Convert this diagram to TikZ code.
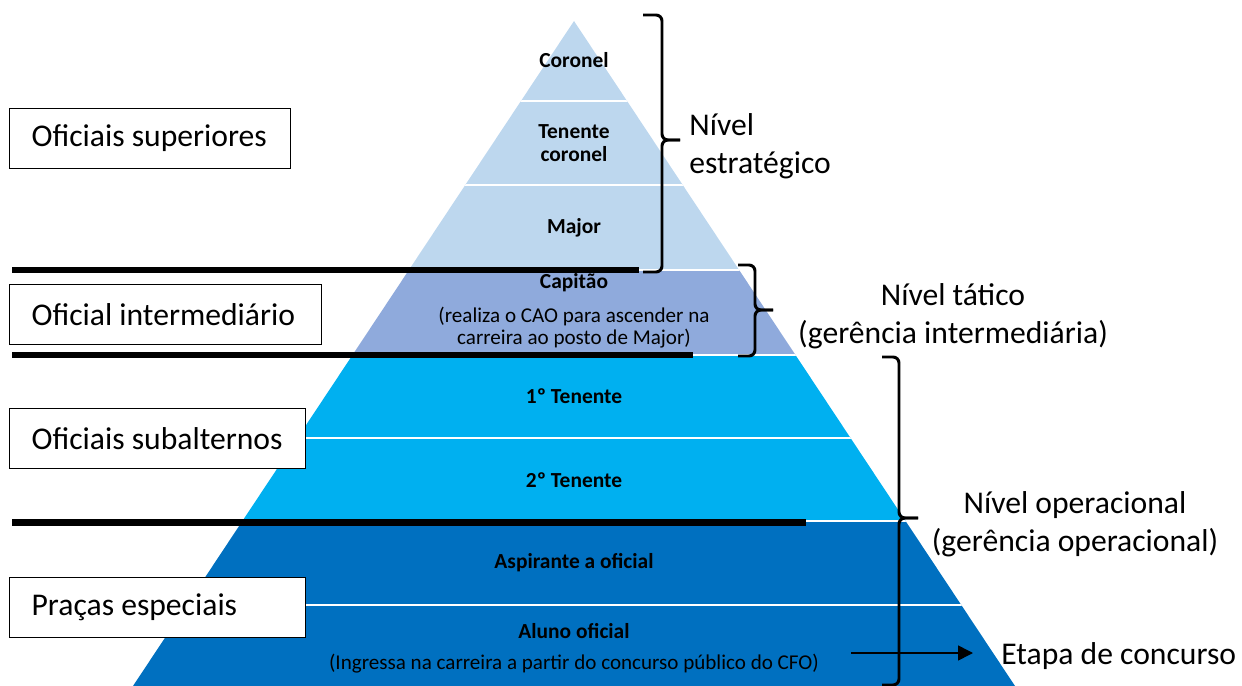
\documentclass[tikz,border=0pt]{standalone}
\usepackage{fontspec}
\setmainfont{Carlito}
\usetikzlibrary{arrows.meta}

\definecolor{lightband}{HTML}{BDD7EE}
\definecolor{midband}{HTML}{8FAADC}
\definecolor{cyanband}{HTML}{00B0F0}
\definecolor{darkband}{HTML}{0070C0}

\tikzset{
  rank/.style={font=\bfseries\fontsize{12.2}{13.1}\selectfont, align=center, inner sep=0pt},
  note/.style={font=\fontsize{12}{12.5}\selectfont, align=center, inner sep=0pt},
  level/.style={font=\fontsize{18}{21.6}\selectfont, inner sep=0pt},
  group/.style={draw, line width=0.7pt, fill=white, anchor=north west,
    minimum height=1.2cm, inner xsep=0.44cm, align=flush left,
    font=\fontsize{18}{21.6}\selectfont},
  cut/.style={line width=0.14cm},
  curly/.style={line width=1.7pt, rounded corners=0.12cm},
}

\begin{document}
\begin{tikzpicture}[x=0.02cm, y=-0.02cm]
\useasboundingbox (0,0) rectangle (1242,686);

\begin{scope}
\clip (574,21) -- (133,686) -- (1015,686) -- cycle;
\fill[lightband] (0,0)   rectangle (1242,270);
\fill[midband]   (0,270) rectangle (1242,355);
\fill[cyanband]  (0,355) rectangle (1242,521);
\fill[darkband]  (0,521) rectangle (1242,700);
\foreach \y in {101,185,270,355,438,521,605}
  \draw[white, line width=1.5pt] (0,\y) -- (1242,\y);
\end{scope}

\draw[cut] (12,270) -- (639,270);
\draw[cut] (12,355) -- (693,355);
\draw[cut] (12,522) -- (806,522);

\node[group, text width=4.74cm] at (9,108) (sup)   {Oficiais superiores};
\node[group, text width=5.36cm] at (9,284) (inter) {Oficial intermediário};
\node[group, text width=5.04cm] at (9,408) (subal) {Oficiais subalternos};
\node[group, text width=5.04cm] at (9,577) (pracas) {Praças especiais};

\node[rank] at (574,60)  (coronel)   {Coronel};
\node[rank] at (574,143) (tencor)    {Tenente\\coronel};
\node[rank] at (574,228) (major)     {Major};
\node[rank] at (574,283) (capitao)   {Capitão};
\node[note] at (574,328) (cao)       {(realiza o CAO para ascender na\\carreira ao posto de Major)};
\node[rank] at (574,396) (primten)   {1º Tenente};
\node[rank] at (574,480) (segten)    {2º Tenente};
\node[rank] at (574,563) (aspirante) {Aspirante a oficial};
\node[rank] at (574,631) (aluno)     {Aluno oficial};
\node[note] at (574,664) (cfo)       {(Ingressa na carreira a partir do concurso público do CFO)};

\draw[curly] (643,15)  -- (662,15)  -- (662,140) -- (680,140);
\draw[curly] (643,272) -- (662,272) -- (662,140) -- (680,140);

\draw[curly] (738,265) -- (755,265) -- (755,310) -- (773,310);
\draw[curly] (738,356) -- (755,356) -- (755,310) -- (773,310);

\draw[curly] (882,357) -- (899,357) -- (899,518) -- (918,518);
\draw[curly] (882,685) -- (899,685) -- (899,518) -- (918,518);

\node[level, anchor=west, align=left] at (689,146) (estrat) {Nível\\estratégico};
\node[level, align=center] at (953,316)  (tatico) {Nível tático\\(gerência intermediária)};
\node[level, align=center] at (1075,524) (operac) {Nível operacional\\(gerência operacional)};
\node[level, anchor=west]  at (1001,656) (etapa)  {Etapa de concurso};

\coordinate (arrtail) at (851,653);
\draw[-{Triangle[length=0.3cm,width=0.3cm]}, line width=0.9pt, shorten >=0.56cm]
  (arrtail) -- (arrtail -| etapa.west);

\end{tikzpicture}
\end{document}
